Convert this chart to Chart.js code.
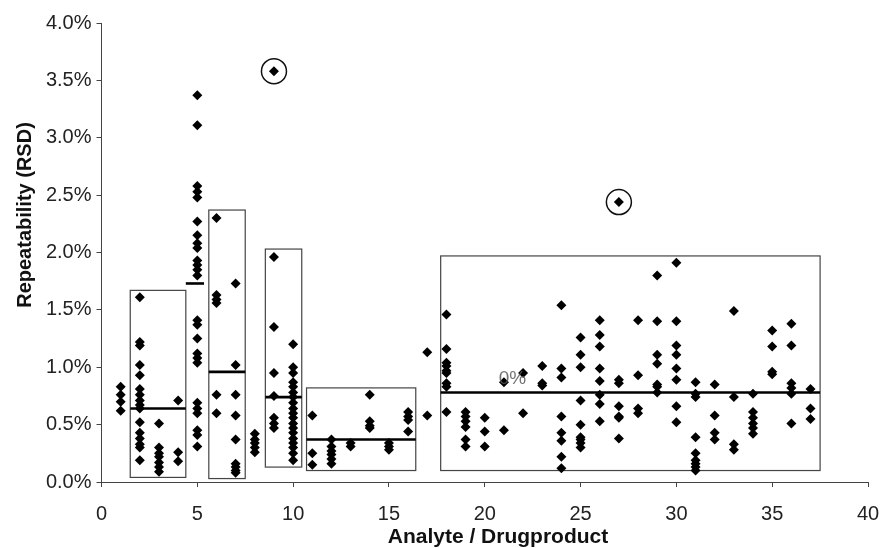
<!DOCTYPE html>
<html lang="en">
<head>
    <meta charset="UTF-8">
    <title>Repeatability (RSD)</title>
    <script src="https://cdn.jsdelivr.net/npm/chart.js"></script>
    <style>
        html, body { margin: 0; padding: 0; background: #fff; }
    </style>
</head>
<body>
    <canvas id="rsdChart" width="882" height="548"></canvas>

    <script>
        // analyte numbers and the RSD values (%) read for each one
        const analytes = [1, 2, 3, 4, 5, 6, 7, 8, 9, 10, 11, 12, 13, 14, 15, 16, 17, 18, 19,
            20, 21, 22, 23, 24, 25, 26, 27, 28, 29, 30, 31, 32, 33, 34, 35, 36, 37];
        const rsd = [
            [0.83, 0.76, 0.70, 0.62],
            [1.61, 1.22, 1.19, 1.02, 0.93, 0.81, 0.76, 0.71, 0.67, 0.64, 0.52, 0.43, 0.38, 0.33, 0.30, 0.19],
            [0.51, 0.30, 0.25, 0.22, 0.17, 0.13, 0.09],
            [0.71, 0.26, 0.18],
            [3.37, 3.11, 2.58, 2.53, 2.48, 2.27, 2.15, 2.08, 2.04, 1.93, 1.89, 1.85, 1.80,
             1.41, 1.37, 1.25, 1.12, 1.08, 1.04, 0.69, 0.64, 0.60, 0.45, 0.41, 0.31],
            [2.30, 1.63, 1.59, 1.56, 0.76, 0.60],
            [1.73, 1.02, 0.76, 0.58, 0.37, 0.16, 0.13, 0.10, 0.08],
            [0.42, 0.37, 0.34, 0.30, 0.26],
            [3.58, 1.96, 1.35, 0.95, 0.75, 0.56, 0.51, 0.47],
            [1.20, 1.00, 0.95, 0.87, 0.83, 0.78, 0.74, 0.69, 0.64, 0.60, 0.56, 0.51, 0.47, 0.43, 0.38, 0.34, 0.30, 0.25, 0.19],
            [0.58, 0.25, 0.15],
            [0.37, 0.31, 0.27, 0.24, 0.20, 0.16],
            [0.34, 0.31],
            [0.76, 0.53, 0.49, 0.47],
            [0.34, 0.31, 0.28],
            [0.61, 0.57, 0.54, 0.44],
            [1.13, 0.58],
            [1.46, 1.16, 1.04, 1.01, 0.97, 0.95, 0.86, 0.83, 0.61],
            [0.61, 0.57, 0.53, 0.48, 0.37, 0.31],
            [0.56, 0.44, 0.31],
            [0.87, 0.45],
            [0.95, 0.60],
            [1.01, 0.86, 0.84],
            [1.54, 0.99, 0.91, 0.57, 0.43, 0.36, 0.22, 0.12],
            [1.26, 1.11, 1.00, 0.71, 0.50, 0.39, 0.37, 0.34, 0.30],
            [1.41, 1.28, 1.18, 0.99, 0.88, 0.76, 0.68, 0.53],
            [2.44, 0.89, 0.86, 0.66, 0.57, 0.56, 0.38],
            [1.41, 0.93, 0.64, 0.60],
            [1.80, 1.40, 1.11, 1.03, 0.85, 0.83, 0.78],
            [1.91, 1.40, 1.19, 1.11, 0.99, 0.89, 0.66, 0.52],
            [0.87, 0.77, 0.74, 0.39, 0.25, 0.19, 0.16, 0.13, 0.10],
            [0.85, 0.58, 0.43, 0.37],
            [1.49, 0.74, 0.33, 0.28],
            [0.77, 0.61, 0.56, 0.51, 0.47, 0.42],
            [1.32, 1.18, 0.96, 0.94],
            [1.38, 1.19, 0.86, 0.82, 0.77, 0.51],
            [0.81, 0.64, 0.55]
        ];

        // circled outliers
        const outlierAnalyte = [9, 27];
        const outlierRsd = [3.58, 2.44];

        // grouping boxes (analyte range, RSD range)
        const boxFrom = [1.5, 5.6, 8.55, 10.7, 17.7];
        const boxTo = [4.4, 7.5, 10.45, 16.4, 37.5];
        const boxLow = [0.04, 0.03, 0.13, 0.10, 0.10];
        const boxHigh = [1.67, 2.37, 2.03, 0.82, 1.97];

        // mean lines
        const meanFrom = [1.5, 4.4, 5.6, 8.55, 10.7, 17.7];
        const meanTo = [4.4, 5.35, 7.5, 10.45, 16.4, 37.5];
        const meanRsd = [0.64, 1.73, 0.96, 0.74, 0.37, 0.78];

        // stray label in the figure
        const noteText = '0%';
        const noteAt = [21.45, 0.90];

        const xTicks = { min: 0, max: 40, step: 5 };
        const yTicks = { min: 0, max: 4, step: 0.5 };

        const points = [];
        analytes.forEach((a, i) => rsd[i].forEach(v => points.push({ x: a, y: v })));
        const circled = outlierAnalyte.map((a, i) => ({ x: a, y: outlierRsd[i] }));

        const FONT = "'Liberation Sans', Arial, Helvetica, sans-serif";

        const extras = {
            id: 'extras',
            beforeDatasetsDraw(chart) {
                const { ctx, scales: { x, y } } = chart;
                ctx.save();
                ctx.strokeStyle = '#444';
                ctx.lineWidth = 1.2;
                boxFrom.forEach((f, i) => {
                    const l = x.getPixelForValue(f), r = x.getPixelForValue(boxTo[i]);
                    const t = y.getPixelForValue(boxHigh[i]), b = y.getPixelForValue(boxLow[i]);
                    ctx.strokeRect(l, t, r - l, b - t);
                });
                ctx.restore();
            },
            afterDatasetsDraw(chart) {
                const { ctx, scales: { x, y } } = chart;
                ctx.save();
                ctx.strokeStyle = '#000';
                ctx.lineWidth = 2.6;
                meanFrom.forEach((f, i) => {
                    const py = y.getPixelForValue(meanRsd[i]);
                    ctx.beginPath();
                    ctx.moveTo(x.getPixelForValue(f), py);
                    ctx.lineTo(x.getPixelForValue(meanTo[i]), py);
                    ctx.stroke();
                });
                ctx.fillStyle = 'rgba(90,90,90,0.85)';
                ctx.font = '19px ' + FONT;
                ctx.textAlign = 'center';
                ctx.textBaseline = 'middle';
                ctx.fillText(noteText, x.getPixelForValue(noteAt[0]), y.getPixelForValue(noteAt[1]));
                ctx.restore();
            },
            afterDraw(chart) {
                const ctx = chart.ctx;
                ctx.save();
                ctx.fillStyle = '#111';
                ctx.font = 'bold 21px ' + FONT;
                ctx.textAlign = 'center';
                ctx.textBaseline = 'middle';
                ctx.fillText('Analyte / Drugproduct', 498, 537);
                ctx.translate(25, 215);
                ctx.rotate(-Math.PI / 2);
                ctx.font = 'bold 20px ' + FONT;
                ctx.fillText('Repeatability (RSD)', 0, 0);
                ctx.restore();
            }
        };

        new Chart(document.getElementById('rsdChart').getContext('2d'), {
            type: 'scatter',
            data: {
                datasets: [{
                    label: 'RSD',
                    data: points,
                    pointStyle: 'rectRot',
                    pointRadius: 5,
                    backgroundColor: '#000',
                    borderColor: '#000',
                    borderWidth: 0
                }, {
                    label: 'Outliers',
                    data: circled,
                    pointStyle: 'circle',
                    pointRadius: 12.5,
                    backgroundColor: 'rgba(0,0,0,0)',
                    borderColor: '#111',
                    borderWidth: 1.5
                }]
            },
            options: {
                responsive: false,
                animation: false,
                layout: { padding: { left: 0, right: 0, top: 23, bottom: 0 } },
                plugins: { legend: { display: false }, tooltip: { enabled: false } },
                scales: {
                    x: {
                        type: 'linear',
                        min: xTicks.min,
                        max: xTicks.max,
                        afterFit: s => { s.height = 66; s.paddingRight = 14; },
                        grid: { drawOnChartArea: false, drawTicks: true, tickLength: 5, color: '#444' },
                        border: { display: true, color: '#444', width: 1 },
                        ticks: {
                            stepSize: xTicks.step,
                            padding: 15,
                            color: '#222',
                            font: { family: FONT, size: 20 }
                        }
                    },
                    y: {
                        min: yTicks.min,
                        max: yTicks.max,
                        afterFit: s => { s.width = 101.5; },
                        grid: { drawOnChartArea: false, drawTicks: true, tickLength: 5, color: '#444' },
                        border: { display: true, color: '#444', width: 1 },
                        ticks: {
                            stepSize: yTicks.step,
                            padding: 5,
                            color: '#222',
                            font: { family: FONT, size: 20 },
                            callback: v => v.toFixed(1) + '%'
                        }
                    }
                }
            },
            plugins: [extras]
        });
    </script>
</body>
</html>
